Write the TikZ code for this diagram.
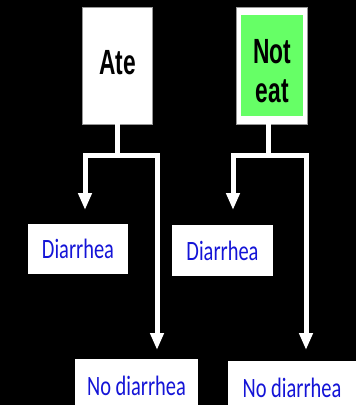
\documentclass[tikz,border=0pt]{standalone}
\usepackage{fontspec}
\usetikzlibrary{arrows.meta}
\newfontfamily\headfont{Liberation Sans}[FakeStretch=0.65]
\newfontfamily\labfont{Carlito}[FakeStretch=0.73]
\definecolor{noteatgreen}{RGB}{102,255,102}
\definecolor{labblue}{RGB}{20,20,215}
\definecolor{edgegrey}{RGB}{150,150,150}

\begin{document}
\begin{tikzpicture}[x=1pt,y=-1pt,
  headbox/.style={fill=white, draw=edgegrey, line width=0.8pt,
    minimum width=70pt, minimum height=117pt, inner sep=0pt,
    font=\headfont\bfseries\fontsize{35}{39}\selectfont, align=center},
  outcome/.style={fill=white, inner sep=0pt, text=labblue,
    font=\labfont\fontsize{28}{30}\selectfont},
  wire/.style={draw=white, line width=5pt},
  tip/.style={wire, -{Triangle[width=13pt,length=17pt]}}
]
\clip (0,0) rectangle (356,405);
\fill[black] (0,0) rectangle (356,405);

% exposure groups
\node[headbox, text height=17pt, text depth=0pt] (ate) at (117.7,65.5) {Ate};
\node[headbox, minimum width=71pt,
  path picture={\fill[noteatgreen]
    ([shift={(4.5pt,-8pt)}]path picture bounding box.north west) rectangle
    ([shift={(-4.5pt,8pt)}]path picture bounding box.south east);}]
  (noteat) at (272.3,65.5) {\rule{0pt}{36pt}Not\\eat};

% outcomes
\node[outcome, minimum width=100pt, minimum height=50pt] (d1) at (78,249) {Diarrhea};
\node[outcome, minimum width=101pt, minimum height=51pt] (d2) at (222.5,250.5) {Diarrhea};
\node[outcome, minimum width=123pt, minimum height=53pt] (n1) at (136.5,385.5) {No diarrhea};
\node[outcome, minimum width=128pt, minimum height=53pt] (n2) at (292,387.5) {No diarrhea};

% branch points and arrow ends
\coordinate (aj) at (117.7,155);
\coordinate (a1) at (85,210);
\coordinate (a2) at (157,350);
\coordinate (bj) at (268,155);
\coordinate (b1) at (233,210);
\coordinate (b2) at (306,350);

\draw[wire] (ate.south) -- (aj);
\draw[tip] (aj) -| (a1);
\draw[tip] (aj) -| (a2);
\draw[wire] (noteat.south -| bj) -- (bj);
\draw[tip] (bj) -| (b1);
\draw[tip] (bj) -| (b2);
\end{tikzpicture}
\end{document}
